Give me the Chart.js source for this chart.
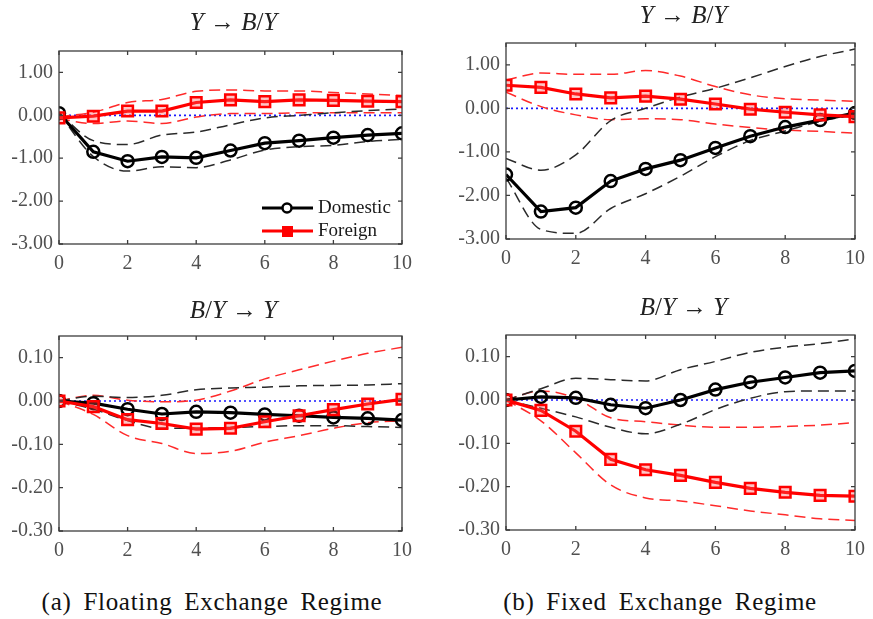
<!DOCTYPE html>
<html>
<head>
<meta charset="utf-8">
<script src="https://cdn.jsdelivr.net/npm/chart.js@4.4.1/dist/chart.umd.min.js"></script>
<style>
  body { margin:0; width:873px; height:619px; position:relative; background:#fff; overflow:hidden; }
  canvas { position:absolute; }
  .ttl { position:absolute; width:300px; text-align:center; font-family:'Liberation Serif'; font-size:25px; line-height:26px; color:#222; }
  .cap { position:absolute; width:440px; text-align:center; font-family:'Liberation Serif'; font-size:25px; line-height:26px; letter-spacing:0.7px; word-spacing:5px; color:#111; }
</style>
</head>
<body>
<canvas id="p1"></canvas>
<canvas id="p2"></canvas>
<canvas id="p3"></canvas>
<canvas id="p4"></canvas>
<script>
// --- Data ---
const horizons = [0,1,2,3,4,5,6,7,8,9,10];
const xTicks = [0,2,4,6,8,10];
const yTicksTop = [-3,-2,-1,0,1];
const yTicksBottom = [-0.3,-0.2,-0.1,0,0.1];

// Floating, Y -> B/Y
const floatYBY_dom   = [0.05,-0.85,-1.07,-0.97,-0.99,-0.82,-0.65,-0.59,-0.52,-0.46,-0.42];
const floatYBY_domHi = [0.05,-0.59,-0.68,-0.46,-0.39,-0.22,-0.06,0.00,0.06,0.11,0.15];
const floatYBY_domLo = [0.05,-0.96,-1.30,-1.20,-1.22,-1.04,-0.81,-0.73,-0.70,-0.61,-0.56];
const floatYBY_for   = [-0.06,-0.02,0.10,0.10,0.30,0.36,0.32,0.36,0.35,0.33,0.32];
const floatYBY_forHi = [-0.03,0.07,0.30,0.37,0.56,0.59,0.57,0.57,0.53,0.50,0.46];
const floatYBY_forLo = [-0.08,-0.19,-0.13,-0.19,-0.04,0.04,0.04,0.06,0.06,0.06,0.06];

// Fixed, Y -> B/Y
const fixYBY_dom   = [-1.52,-2.37,-2.28,-1.67,-1.39,-1.19,-0.91,-0.64,-0.43,-0.27,-0.11];
const fixYBY_domHi = [-1.15,-1.42,-1.07,-0.28,0.00,0.26,0.46,0.70,0.96,1.19,1.36];
const fixYBY_domLo = [-1.60,-2.78,-2.87,-2.30,-1.96,-1.56,-1.11,-0.74,-0.52,-0.30,-0.15];
const fixYBY_for   = [0.53,0.48,0.33,0.24,0.28,0.21,0.10,-0.02,-0.09,-0.15,-0.19];
const fixYBY_forHi = [0.65,0.81,0.78,0.78,0.87,0.74,0.50,0.31,0.22,0.19,0.16];
const fixYBY_forLo = [0.37,0.04,-0.15,-0.26,-0.24,-0.26,-0.36,-0.44,-0.50,-0.53,-0.57];

// Floating, B/Y -> Y
const floatBYY_dom   = [0,-0.005,-0.019,-0.030,-0.025,-0.027,-0.031,-0.034,-0.038,-0.040,-0.044];
const floatBYY_domHi = [0,0.011,0.008,0.013,0.026,0.030,0.032,0.035,0.036,0.037,0.040];
const floatBYY_domLo = [0,-0.019,-0.045,-0.063,-0.063,-0.061,-0.059,-0.057,-0.057,-0.059,-0.061];
const floatBYY_for   = [0,-0.013,-0.043,-0.052,-0.065,-0.063,-0.048,-0.034,-0.020,-0.007,0.004];
const floatBYY_forHi = [0,0.013,0.002,-0.002,0.002,0.023,0.051,0.072,0.092,0.110,0.124];
const floatBYY_forLo = [0,-0.031,-0.080,-0.098,-0.121,-0.116,-0.095,-0.080,-0.063,-0.050,-0.046];

// Fixed, B/Y -> Y
const fixBYY_dom   = [0,0.007,0.005,-0.011,-0.019,0.000,0.024,0.041,0.052,0.063,0.067];
const fixBYY_domHi = [0,0.026,0.050,0.047,0.044,0.070,0.089,0.110,0.122,0.130,0.141];
const fixBYY_domLo = [0,-0.019,-0.039,-0.063,-0.078,-0.056,-0.022,0.004,0.019,0.021,0.021];
const fixBYY_for   = [0,-0.024,-0.072,-0.137,-0.161,-0.174,-0.190,-0.204,-0.213,-0.220,-0.222];
const fixBYY_forHi = [0,0.021,0.004,-0.041,-0.050,-0.058,-0.063,-0.063,-0.061,-0.058,-0.052];
const fixBYY_forLo = [0,-0.048,-0.122,-0.196,-0.226,-0.233,-0.244,-0.256,-0.265,-0.274,-0.278];

const titleTop = '<i>Y</i> \u2192 <i>B</i>/<i>Y</i>';
const titleBottom = '<i>B</i>/<i>Y</i> \u2192 <i>Y</i>';
const captions = ['(a) Floating Exchange Regime', '(b) Fixed Exchange Regime'];

const SERIF = "'Liberation Serif'";
Chart.defaults.font.family = SERIF;
const FRAME = '#3c3c3c';
const TICKTXT = '#505050';
const YW = 58, XH = 34, PT = 10, PR = 12;

// frame, inward ticks, zero line and (optionally) the legend
const framePlugin = {
  id: 'frame',
  beforeDatasetsDraw(chart){
    const {ctx, chartArea:a, scales:{y}} = chart;
    const y0 = y.getPixelForValue(0);
    ctx.save();
    ctx.strokeStyle = '#1a1aff';
    ctx.lineWidth = 1.6;
    ctx.setLineDash([2,3]);
    ctx.beginPath(); ctx.moveTo(a.left, y0); ctx.lineTo(a.right, y0); ctx.stroke();
    ctx.restore();
  },
  afterDatasetsDraw(chart, args, opts){
    const {ctx, chartArea:a, scales:{x, y}} = chart;
    ctx.save();
    ctx.strokeStyle = FRAME;
    ctx.lineWidth = 1.3;
    ctx.strokeRect(a.left, a.top, a.right - a.left, a.bottom - a.top);
    ctx.beginPath();
    x.ticks.forEach(t => {
      const px = x.getPixelForValue(t.value);
      ctx.moveTo(px, a.bottom); ctx.lineTo(px, a.bottom - 4);
      ctx.moveTo(px, a.top); ctx.lineTo(px, a.top + 4);
    });
    y.ticks.forEach(t => {
      const py = y.getPixelForValue(t.value);
      ctx.moveTo(a.left, py); ctx.lineTo(a.left + 4, py);
      ctx.moveTo(a.right, py); ctx.lineTo(a.right - 4, py);
    });
    ctx.stroke();

    if (opts.legend) {
      const items = chart.data.datasets.filter(d => d.label);
      items.forEach((d, i) => {
        const ly = a.top + 157 + i * 23;
        const lx = a.left + 203;
        ctx.strokeStyle = d.borderColor;
        ctx.lineWidth = 3;
        ctx.beginPath(); ctx.moveTo(lx, ly); ctx.lineTo(lx + 51, ly); ctx.stroke();
        if (d.pointStyle === 'rect') {
          ctx.fillStyle = d.borderColor;
          ctx.fillRect(lx + 20, ly - 5, 11, 11);
        } else {
          ctx.fillStyle = '#fff';
          ctx.lineWidth = 2.5;
          ctx.beginPath(); ctx.arc(lx + 25, ly, 4.5, 0, Math.PI * 2); ctx.fill(); ctx.stroke();
        }
        ctx.fillStyle = '#1a1a1a';
        ctx.font = '19px ' + SERIF;
        ctx.textBaseline = 'middle';
        ctx.fillText(d.label, lx + 56, ly);
      });
    }
    ctx.restore();
  }
};

function band(data, color){
  return { data, borderColor: color, borderWidth: 1.5, borderDash: [11,6], pointRadius: 0,
           cubicInterpolationMode: 'monotone', fill: false, order: 2 };
}

function makePanel(id, box, yTicks, yMin, yMax, s, title, titleY, showLegend){
  const cv = document.getElementById(id);
  cv.width = (box.r - box.l) + YW + PR;
  cv.height = (box.b - box.t) + PT + XH;
  cv.style.left = (box.l - YW) + 'px';
  cv.style.top = (box.t - PT) + 'px';

  const t = document.createElement('div');
  t.className = 'ttl';
  t.innerHTML = title;
  t.style.left = ((box.l + box.r) / 2 - 150) + 'px';
  t.style.top = (titleY - 13) + 'px';
  document.body.appendChild(t);

  new Chart(cv.getContext('2d'), {
    type: 'line',
    data: {
      labels: horizons,
      datasets: [
        band(s.domHi, '#2a2a2a'), band(s.domLo, '#2a2a2a'),
        band(s.forHi, '#ff2a2a'), band(s.forLo, '#ff2a2a'),
        { label: 'Domestic', data: s.dom, borderColor: '#000', borderWidth: 3.2, tension: 0,
          pointStyle: 'circle', pointRadius: 6, pointBorderWidth: 2.5,
          pointBackgroundColor: 'rgba(0,0,0,0)', pointBorderColor: '#000', order: 1 },
        { label: 'Foreign', data: s.for, borderColor: '#ff0000', borderWidth: 3.2, tension: 0,
          pointStyle: 'rect', pointRadius: 7.5, pointBorderWidth: 2.5,
          pointBackgroundColor: 'rgba(255,90,90,0.35)', pointBorderColor: '#ff0000', order: 0 }
      ]
    },
    options: {
      responsive: false,
      animation: false,
      devicePixelRatio: 1,
      layout: { padding: { top: PT, right: PR, left: 0, bottom: 0 } },
      plugins: { legend: { display: false }, tooltip: { enabled: false }, frame: { legend: showLegend } },
      scales: {
        x: {
          type: 'linear', min: 0, max: 10,
          afterBuildTicks: sc => { sc.ticks = xTicks.map(v => ({ value: v })); },
          afterFit: sc => { sc.height = XH; },
          ticks: { color: TICKTXT, font: { size: 20 }, padding: 8, maxRotation: 0, callback: v => String(v) },
          grid: { display: false, drawTicks: false },
          border: { display: false }
        },
        y: {
          type: 'linear', min: yMin, max: yMax,
          afterBuildTicks: sc => { sc.ticks = yTicks.map(v => ({ value: v })); },
          afterFit: sc => { sc.width = YW; },
          ticks: { color: TICKTXT, font: { size: 20 }, padding: 6, callback: v => v.toFixed(2) },
          grid: { display: false, drawTicks: false },
          border: { display: false }
        }
      }
    },
    plugins: [framePlugin]
  });
}

function drawAll(){
  // --- Panels ---
  makePanel('p1', {l:59, t:43, r:408, b:244}, yTicksTop, -3, 1.5,
    {dom: floatYBY_dom, domHi: floatYBY_domHi, domLo: floatYBY_domLo, for: floatYBY_for, forHi: floatYBY_forHi, forLo: floatYBY_forLo},
    titleTop, 22, true);
  makePanel('p2', {l:506, t:35, r:861, b:239}, yTicksTop, -3, 1.5,
    {dom: fixYBY_dom, domHi: fixYBY_domHi, domLo: fixYBY_domLo, for: fixYBY_for, forHi: fixYBY_forHi, forLo: fixYBY_forLo},
    titleTop, 15, false);
  makePanel('p3', {l:59, t:328, r:408, b:531}, yTicksBottom, -0.3, 0.15,
    {dom: floatBYY_dom, domHi: floatBYY_domHi, domLo: floatBYY_domLo, for: floatBYY_for, forHi: floatBYY_forHi, forLo: floatBYY_forLo},
    titleBottom, 310, false);
  makePanel('p4', {l:506, t:327, r:861, b:530}, yTicksBottom, -0.3, 0.15,
    {dom: fixBYY_dom, domHi: fixBYY_domHi, domLo: fixBYY_domLo, for: fixBYY_for, forHi: fixBYY_forHi, forLo: fixBYY_forLo},
    titleBottom, 307, false);

  // --- Captions ---
  [[212, captions[0]], [660, captions[1]]].forEach(([cx, text]) => {
    const c = document.createElement('div');
    c.className = 'cap';
    c.textContent = text;
    c.style.left = (cx - 220) + 'px';
    c.style.top = (602 - 13) + 'px';
    document.body.appendChild(c);
  });
}

document.fonts.load('20px ' + SERIF).then(drawAll, drawAll);
</script>
</body>
</html>
